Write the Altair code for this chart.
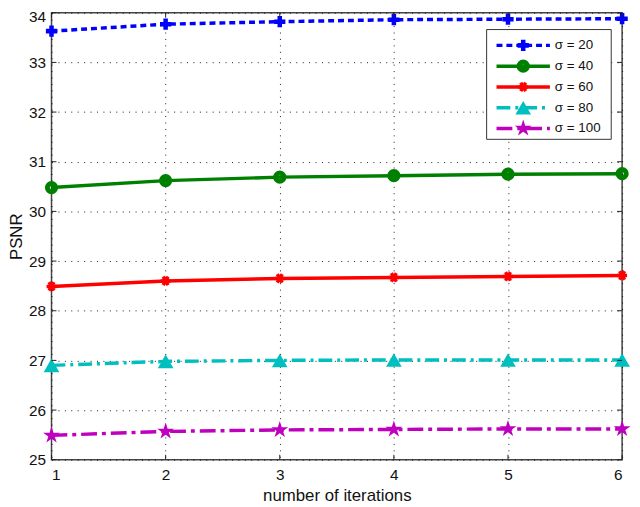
import altair as alt
import pandas as pd

# ---- data ----
series = ["σ = 20", "σ = 40", "σ = 60", "σ = 80", "σ = 100"]
iterations = [1, 2, 3, 4, 5, 6]
psnr_20 = [33.63, 33.77, 33.82, 33.86, 33.87, 33.88]
psnr_40 = [30.48, 30.62, 30.69, 30.72, 30.75, 30.76]
psnr_60 = [28.49, 28.60, 28.65, 28.67, 28.69, 28.71]
psnr_80 = [26.90, 26.98, 27.00, 27.01, 27.01, 27.01]
psnr_100 = [25.49, 25.57, 25.60, 25.61, 25.62, 25.62]
y_ticks = [25, 26, 27, 28, 29, 30, 31, 32, 33, 34]
x_ticks = [1, 2, 3, 4, 5, 6]

# ---- styles ----
colors = ["#0000FF", "#008000", "#FF0000", "#00BFBF", "#BF00BF"]
dashes = [[6, 4], None, None, [14, 5, 3, 5], [16, 5, 4, 5]]
ASTERISK = "M-1,0L1,0M-0.5,-0.866L0.5,0.866M-0.5,0.866L0.5,-0.866"
STAR = ("M0,-1L0.2245,-0.309L0.9511,-0.309L0.3633,0.118L0.5878,0.809L0,0.382"
        "L-0.5878,0.809L-0.3633,0.118L-0.9511,-0.309L-0.2245,-0.309Z")
markers = [
    dict(shape="cross", size=130, filled=True, strokeWidth=0),
    dict(shape="circle", size=70, filled=False, strokeWidth=5),
    dict(shape=ASTERISK, size=100, filled=False, strokeWidth=3.5),
    dict(shape="triangle-up", size=250, filled=True, strokeWidth=1),
    dict(shape=STAR, size=320, filled=True, strokeWidth=1),
]

W, H = 577, 452
FONT = "Liberation Sans"

all_vals = [psnr_20, psnr_40, psnr_60, psnr_80, psnr_100]

xs = alt.Scale(domain=[1, 6], nice=False, zero=False)
ys = alt.Scale(domain=[25, 34], nice=False, zero=False)

layers = []
first = True
for s, vals, c, d, m in zip(series, all_vals, colors, dashes, markers):
    df = pd.DataFrame({"iter": iterations, "psnr": vals})
    line_kw = dict(strokeWidth=3.5, color=c)
    if d is not None:
        line_kw["strokeDash"] = d
    if first:
        xenc = alt.X("iter:Q", scale=xs,
                     axis=alt.Axis(values=x_ticks, title="number of iterations", format="d"))
        yenc = alt.Y("psnr:Q", scale=ys,
                     axis=alt.Axis(values=y_ticks, title="PSNR", format="d",
                                   labelOffset={"expr": "datum.value == 34 ? 4 : 0"}))
        first = False
    else:
        xenc = alt.X("iter:Q", scale=xs)
        yenc = alt.Y("psnr:Q", scale=ys)
    layers.append(alt.Chart(df).mark_line(**line_kw).encode(x=xenc, y=yenc))
    layers.append(alt.Chart(df).mark_point(
        shape=m["shape"], size=m["size"], filled=m["filled"],
        strokeWidth=m["strokeWidth"], color=c, opacity=1,
    ).encode(x=alt.X("iter:Q", scale=xs), y=alt.Y("psnr:Q", scale=ys)))

# inward ticks on all four sides
yt = pd.DataFrame({"v": y_ticks})
xt = pd.DataFrame({"v": x_ticks})
tick_style = dict(color="#222", strokeWidth=1)
layers.append(alt.Chart(yt).mark_rule(**tick_style).encode(
    y=alt.Y("v:Q", scale=ys), x=alt.value(0), x2=alt.value(5)))
layers.append(alt.Chart(yt).mark_rule(**tick_style).encode(
    y=alt.Y("v:Q", scale=ys), x=alt.value(W - 5), x2=alt.value(W)))
layers.append(alt.Chart(xt).mark_rule(**tick_style).encode(
    x=alt.X("v:Q", scale=xs), y=alt.value(H), y2=alt.value(H - 5)))
layers.append(alt.Chart(xt).mark_rule(**tick_style).encode(
    x=alt.X("v:Q", scale=xs), y=alt.value(0), y2=alt.value(5)))

# ---- legend box (inside the plot, top-right) ----
one = pd.DataFrame({"a": [0]})
layers.append(alt.Chart(one).mark_rect(fill="white", stroke="#333", strokeWidth=1).encode(
    x=alt.value(440), x2=alt.value(566), y=alt.value(17), y2=alt.value(128)))
leg_rows = [33, 54, 75, 96, 117]
for s, c, d, m, ly in zip(series, colors, dashes, markers, leg_rows):
    kw = dict(strokeWidth=3.5, color=c)
    if d is not None:
        kw["strokeDash"] = d
    layers.append(alt.Chart(one).mark_rule(**kw).encode(
        x=alt.value(450), x2=alt.value(504), y=alt.value(ly)))
    layers.append(alt.Chart(one).mark_point(
        shape=m["shape"], size=m["size"], filled=m["filled"],
        strokeWidth=m["strokeWidth"], color=c, opacity=1,
    ).encode(x=alt.value(477), y=alt.value(ly)))
    layers.append(alt.Chart(one).mark_text(
        align="left", baseline="middle", font=FONT, fontSize=13.5, color="#111", text=s,
    ).encode(x=alt.value(509), y=alt.value(ly)))

chart = alt.layer(*layers).properties(
    width=W, height=H,
    autosize=alt.AutoSizeParams(type="none"),
    padding={"left": 44, "top": 2, "right": 10, "bottom": 45},
).configure_view(
    stroke="#444", strokeWidth=1.5,
).configure_axis(
    labelFont=FONT, labelFontSize=15.5, labelColor="#111",
    titleFont=FONT, titleFontSize=17, titleFontWeight="normal", titleColor="#111",
    grid=True, gridColor="#000", gridDash=[1, 5.5], gridWidth=1, gridOpacity=0.9,
    domain=False, ticks=False,
).configure_axisX(
    labelPadding=8, titlePadding=5,
).configure_axisY(
    labelPadding=6, titlePadding=3,
)

chart.save("out.html", embed_options={"renderer": "svg", "actions": False})
